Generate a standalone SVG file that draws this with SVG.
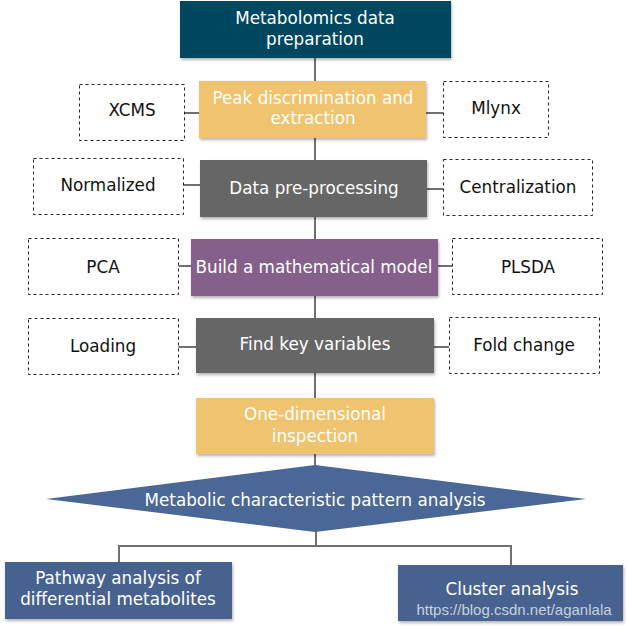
<svg xmlns="http://www.w3.org/2000/svg" width="628" height="627" viewBox="0 0 628 627">
<defs>
<filter id="sh" x="-10%" y="-10%" width="130%" height="140%">
<feDropShadow dx="1" dy="2" stdDeviation="1.5" flood-color="#000" flood-opacity="0.3"/>
</filter>
</defs>
<style>
.t{font-family:"DejaVu Sans","Liberation Sans",sans-serif;font-size:16.8px;text-anchor:middle;dominant-baseline:central}
.w{fill:#ffffff}
.k{fill:#111111}
.dash{fill:#ffffff;stroke:#222222;stroke-width:1;stroke-dasharray:3,3}
.ln{stroke:#707070;stroke-width:2;fill:none}
.wm{font-family:"Liberation Sans",Arial,sans-serif;font-size:15px;fill:#c9d1de;text-anchor:middle;dominant-baseline:central}
</style>
<rect width="628" height="627" fill="#ffffff"/>
<g id="connectors">
<path class="ln" d="M315 58V81M315 138V160M315 217V239M315 296V318M315 373V398M315 454V466"/>
<path class="ln" d="M184 113H199M426 113H443"/>
<path class="ln" d="M183 185H200M427 189H443"/>
<path class="ln" d="M178 266H191M438 266H452"/>
<path class="ln" d="M178 347H196M434 347H449"/>
<path class="ln" d="M316 531V546M119 546H511M119 545V562M511 545V565"/>
</g>
<g id="n-prep">
<rect x="180" y="1" width="271" height="57" fill="#02475f" filter="url(#sh)"/>
<text class="t w" x="315" y="18">Metabolomics data</text>
<text class="t w" x="315" y="39">preparation</text>
</g>
<g id="n-peak">
<rect x="199" y="81" width="227" height="57" fill="#f0c36e" filter="url(#sh)"/>
<text class="t w" x="313" y="98">Peak discrimination and</text>
<text class="t w" x="313" y="118">extraction</text>
</g>
<g id="n-xcms">
<rect class="dash" x="79.5" y="84.5" width="105" height="56"/>
<text class="t k" x="132" y="110">XCMS</text>
</g>
<g id="n-mlynx">
<rect class="dash" x="443.5" y="81.5" width="105" height="56"/>
<text class="t k" x="496" y="108">Mlynx</text>
</g>
<g id="n-pre">
<rect x="200" y="160" width="227" height="57" fill="#666666" filter="url(#sh)"/>
<text class="t w" x="314" y="188">Data pre-processing</text>
</g>
<g id="n-norm">
<rect class="dash" x="33.5" y="158.5" width="150" height="56"/>
<text class="t k" x="108" y="185">Normalized</text>
</g>
<g id="n-cent">
<rect class="dash" x="443.5" y="159.5" width="149" height="56"/>
<text class="t k" x="518" y="187">Centralization</text>
</g>
<g id="n-build">
<rect x="191" y="239" width="247" height="57" fill="#84618a" filter="url(#sh)"/>
<text class="t w" x="314" y="267">Build a mathematical model</text>
</g>
<g id="n-pca">
<rect class="dash" x="28.5" y="238.5" width="150" height="56"/>
<text class="t k" x="103" y="267">PCA</text>
</g>
<g id="n-plsda">
<rect class="dash" x="452.5" y="238.5" width="150" height="56"/>
<text class="t k" x="528" y="267">PLSDA</text>
</g>
<g id="n-key">
<rect x="196" y="318" width="238" height="55" fill="#666666" filter="url(#sh)"/>
<text class="t w" x="315" y="344">Find key variables</text>
</g>
<g id="n-loading">
<rect class="dash" x="28.5" y="318.5" width="150" height="56"/>
<text class="t k" x="103" y="346">Loading</text>
</g>
<g id="n-fold">
<rect class="dash" x="449.5" y="317.5" width="150" height="56"/>
<text class="t k" x="524" y="345">Fold change</text>
</g>
<g id="n-one">
<rect x="196" y="398" width="238" height="56" fill="#f0c36e" filter="url(#sh)"/>
<text class="t w" x="315" y="414">One-dimensional</text>
<text class="t w" x="315" y="436">inspection</text>
</g>
<g id="n-pattern">
<polygon points="46,499 315,465 586,499 315,532" fill="#4a6795"/>
<text class="t w" x="315" y="500">Metabolic characteristic pattern analysis</text>
</g>
<g id="n-pathway">
<rect x="5" y="562" width="227" height="57" fill="#46628f" filter="url(#sh)"/>
<text class="t w" x="118" y="578">Pathway analysis of</text>
<text class="t w" x="118" y="599">differential metabolites</text>
</g>
<g id="n-cluster">
<rect x="398" y="565" width="225" height="56" fill="#46628f" filter="url(#sh)"/>
<text class="t w" x="512" y="589">Cluster analysis</text>
<text class="wm" x="514" y="609">https://blog.csdn.net/aganlala</text>
</g>
</svg>
